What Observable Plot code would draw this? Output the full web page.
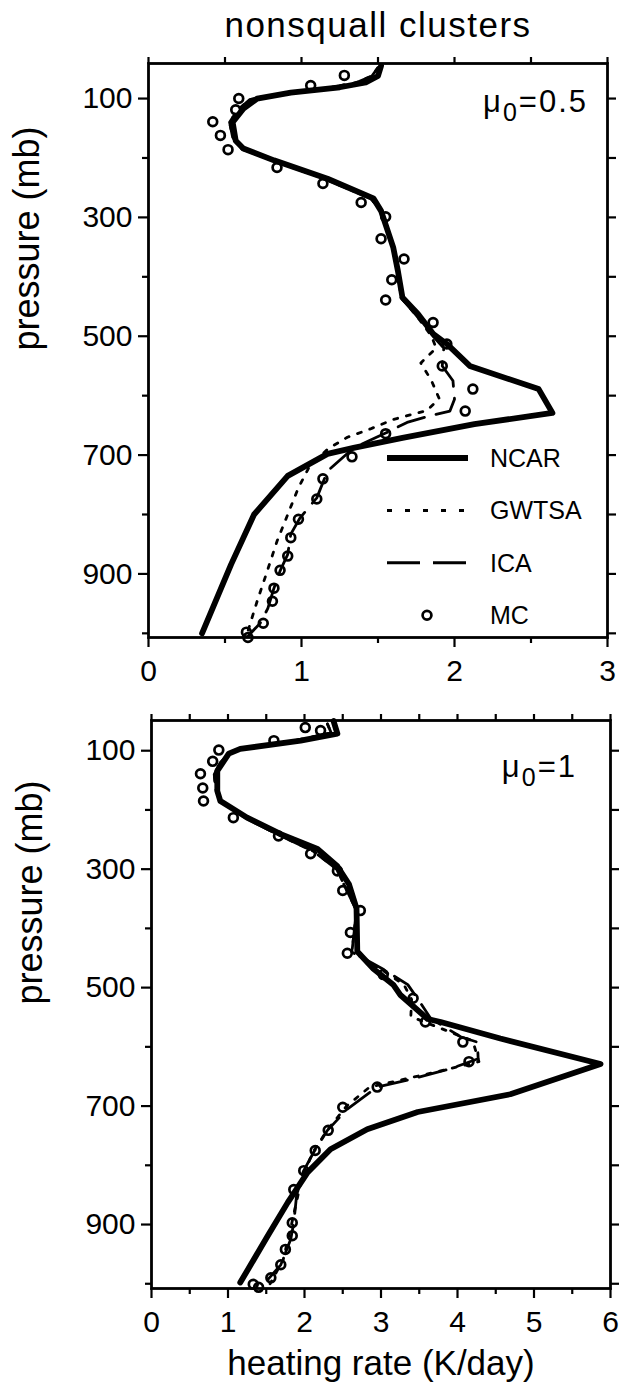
<!DOCTYPE html>
<html><head><meta charset="utf-8">
<script src="https://cdn.jsdelivr.net/npm/d3@7"></script>
<script src="https://cdn.jsdelivr.net/npm/@observablehq/plot@0.6"></script>
<style>
body{margin:0;background:#fff;}
#wrap{position:relative;width:621px;height:1384px;background:#fff;}
#wrap svg{position:absolute;left:0;}
</style></head><body><div id="wrap"></div>
<script>
// ---------- text ----------
const titleText = "nonsquall clusters";
const yLabel = "pressure (mb)";
const xLabel = "heating rate (K/day)";
const seriesNames = ["NCAR", "GWTSA", "ICA", "MC"];
const muValues = ["0.5", "1"];

// ---------- ticks ----------
const pressureMajorTicks = [100, 300, 500, 700, 900];
const pressureMinorTicks = [200, 400, 600, 800, 1000];
const xMajorTop = [0, 1, 2, 3];
const xMinorTop = [0.5, 1.5, 2.5];
const xMajorBottom = [0, 1, 2, 3, 4, 5, 6];
const xMinorBottom = [0.5, 1.5, 2.5, 3.5, 4.5, 5.5];

// ---------- data: mu0 = 0.5 (top) ----------
const ncarTopP = [45, 62, 73, 81, 90, 100, 117, 140, 171, 184, 204, 235, 268, 289, 351, 390, 435, 462, 496, 513, 550, 589, 629, 648, 671, 688, 698, 735, 800, 884, 1000];
const ncarTopV = [1.52, 1.50, 1.42, 1.25, 0.93, 0.71, 0.62, 0.55, 0.57, 0.62, 0.82, 1.17, 1.47, 1.52, 1.60, 1.63, 1.66, 1.76, 1.86, 1.95, 2.10, 2.55, 2.64, 2.13, 1.66, 1.34, 1.17, 0.91, 0.69, 0.54, 0.35];

const icaTopP = [48, 62, 73, 82, 92, 102, 120, 140, 165, 185, 205, 235, 268, 290, 350, 390, 435, 465, 500, 520, 550, 575, 606, 626, 634, 645, 663, 688, 727, 772, 806, 833, 867, 895, 924, 958, 983, 1002];
const icaTopV = [1.50, 1.46, 1.36, 1.18, 0.86, 0.66, 0.58, 0.53, 0.55, 0.61, 0.82, 1.15, 1.45, 1.53, 1.60, 1.63, 1.65, 1.75, 1.86, 1.93, 1.92, 1.99, 2.00, 1.97, 1.84, 1.69, 1.55, 1.34, 1.17, 1.10, 0.99, 0.93, 0.91, 0.86, 0.82, 0.78, 0.73, 0.66];

const gwtsaTopP = [48, 62, 73, 82, 92, 102, 120, 140, 165, 185, 205, 235, 268, 290, 350, 390, 435, 465, 500, 520, 545, 575, 605, 625, 640, 656, 670, 690, 720, 755, 800, 845, 900, 946, 996];
const gwtsaTopV = [1.50, 1.46, 1.36, 1.18, 0.86, 0.66, 0.58, 0.53, 0.55, 0.61, 0.82, 1.15, 1.45, 1.53, 1.60, 1.63, 1.65, 1.75, 1.85, 1.88, 1.78, 1.85, 1.90, 1.82, 1.60, 1.45, 1.30, 1.17, 1.05, 0.98, 0.91, 0.84, 0.77, 0.71, 0.65];

const mcTopP = [61, 78, 100, 119, 139, 162, 186, 216, 243, 275, 299, 336, 370, 405, 439, 477, 513, 550, 589, 626, 664, 703, 740, 774, 808, 839, 870, 894, 924, 946, 983, 998, 1007];
const mcTopV = [1.28, 1.06, 0.59, 0.57, 0.42, 0.47, 0.52, 0.84, 1.14, 1.39, 1.55, 1.52, 1.67, 1.59, 1.55, 1.86, 1.95, 1.92, 2.12, 2.07, 1.55, 1.33, 1.14, 1.10, 0.98, 0.93, 0.91, 0.86, 0.82, 0.81, 0.75, 0.64, 0.65];

// ---------- data: mu0 = 1 (bottom) ----------
const ncarBotP = [50, 71, 83, 97, 105, 134, 168, 185, 213, 241, 266, 295, 325, 366, 439, 468, 495, 512, 553, 558, 586, 629, 680, 710, 739, 773, 812, 863, 919, 998];
const ncarBotV = [2.38, 2.43, 1.95, 1.16, 1.01, 0.86, 0.86, 0.90, 1.25, 1.69, 2.17, 2.43, 2.58, 2.68, 2.69, 2.90, 3.16, 3.25, 3.61, 3.78, 4.56, 5.87, 4.69, 3.48, 2.82, 2.34, 2.04, 1.78, 1.52, 1.16];

const icaBotP = [55, 70, 85, 100, 120, 140, 165, 185, 213, 242, 270, 300, 335, 370, 405, 440, 469, 495, 519, 552, 583, 592, 620, 637, 656, 668, 705, 741, 778, 809, 834, 897, 925, 968, 993];
const icaBotV = [2.30, 2.35, 1.80, 1.05, 0.90, 0.82, 0.84, 0.90, 1.22, 1.66, 2.12, 2.42, 2.55, 2.68, 2.65, 2.62, 3.03, 3.35, 3.48, 3.65, 4.04, 4.26, 4.27, 3.91, 3.35, 2.95, 2.56, 2.30, 2.12, 1.99, 1.91, 1.86, 1.82, 1.69, 1.52];

const gwtsaBotP = [55, 70, 85, 100, 120, 140, 165, 185, 213, 242, 270, 300, 335, 370, 405, 440, 469, 495, 520, 549, 590, 625, 640, 668, 700, 740, 780, 830, 900, 960, 1000];
const gwtsaBotV = [2.30, 2.35, 1.80, 1.05, 0.90, 0.82, 0.84, 0.90, 1.22, 1.66, 2.12, 2.42, 2.55, 2.68, 2.65, 2.62, 3.00, 3.30, 3.40, 3.39, 4.20, 4.28, 3.80, 2.85, 2.55, 2.30, 2.10, 1.95, 1.83, 1.72, 1.55];

const mcBotP = [61, 66, 83, 99, 118, 139, 163, 185, 213, 244, 274, 303, 336, 370, 407, 442, 478, 518, 558, 592, 625, 668, 702, 741, 775, 809, 841, 897, 919, 942, 968, 990, 1001, 1006];
const mcBotV = [2.01, 2.21, 1.60, 0.88, 0.80, 0.64, 0.67, 0.68, 1.07, 1.66, 2.08, 2.43, 2.50, 2.73, 2.60, 2.56, 3.03, 3.42, 3.58, 4.07, 4.15, 2.95, 2.50, 2.31, 2.14, 1.99, 1.86, 1.84, 1.84, 1.75, 1.69, 1.56, 1.33, 1.40];

const zip = (P, V) => P.map((p, i) => ({p, v: V[i]}));
const FONT = "'Liberation Sans', Arial, Helvetica, sans-serif";
const intFmt = d3.format("d");

function panel(cfg) {
  const {ncar, gwtsa, ica, mc, xDomain, yDomain, xMajor, xMinor, height, mt, mb, ml, mr, top, withTitle, withXLabel, mu, muDx, muDy, withLegend} = cfg;
  const marks = [
    Plot.line(gwtsa, {x: "v", y: "p", stroke: "black", strokeWidth: 2.8, strokeDasharray: "4,9", strokeLinecap: "round"}),
    Plot.line(ica, {x: "v", y: "p", stroke: "black", strokeWidth: 2.8, strokeDasharray: "28,12"}),
    Plot.line(ncar, {x: "v", y: "p", stroke: "black", strokeWidth: 5.8, strokeLinejoin: "round", strokeLinecap: "round"}),
    Plot.dot(mc, {x: "v", y: "p", r: 4.4, stroke: "black", strokeWidth: 2.7, fill: "none"}),
    Plot.frame({stroke: "black", strokeWidth: 2.8}),
    Plot.axisY({anchor: "left", ticks: pressureMajorTicks, tickSize: 10, tickPadding: 6, fontSize: 30, label: null, strokeWidth: 2.2, tickFormat: intFmt}),
    Plot.axisY({anchor: "left", ticks: pressureMinorTicks, tickSize: 6, tickFormat: () => "", label: null, strokeWidth: 2.2}),
    Plot.axisY({anchor: "right", ticks: pressureMajorTicks.concat(pressureMinorTicks), tickSize: 8, tickFormat: () => "", label: null, strokeWidth: 2.2}),
    Plot.axisX({anchor: "bottom", ticks: xMajor, tickSize: 10, tickPadding: 12, fontSize: 30, label: null, strokeWidth: 2.2, tickFormat: intFmt}),
    Plot.axisX({anchor: "bottom", ticks: xMinor, tickSize: 6, tickFormat: () => "", label: null, strokeWidth: 2.2}),
    Plot.axisX({anchor: "top", ticks: xMajor.concat(xMinor), tickSize: 7, tickFormat: () => "", label: null, strokeWidth: 2.2}),
    Plot.text([yLabel], {frameAnchor: "left", dx: -121, rotate: -90, fontSize: 36})
  ];
  if (withTitle) marks.push(Plot.text([titleText], {frameAnchor: "top", dy: -51, fontSize: 35}));
  if (withXLabel) marks.push(Plot.text([xLabel], {frameAnchor: "bottom", dy: 86, fontSize: 35}));
  const svg = Plot.plot({
    width: 621, height, marginTop: mt, marginBottom: mb, marginLeft: ml, marginRight: mr,
    x: {domain: xDomain},
    y: {domain: yDomain, reverse: true},
    style: {fontFamily: FONT, background: "white", overflow: "visible", color: "black"},
    marks
  });
  svg.style.top = top + "px";
  const s = d3.select(svg);
  s.selectAll("text").filter(function() { return this.textContent === titleText; }).attr("letter-spacing", 1.5);
  const fr = 621 - mr, ft = mt, fb = height - mb;
  // mu label
  const t = s.append("text").attr("x", fr + muDx).attr("y", ft + muDy).attr("text-anchor", "end")
    .attr("font-family", FONT).attr("font-size", 31).attr("letter-spacing", 2).attr("fill", "black");
  t.append("tspan").text("μ");
  t.append("tspan").attr("dy", 9).attr("font-size", 25).text("0");
  t.append("tspan").attr("dy", -9).text("=" + mu);
  if (withLegend) {
    const g = s.append("g").attr("font-family", FONT).attr("font-size", 25).attr("fill", "black").attr("text-anchor", "start");
    const styles = [{w: 6, dash: null}, {w: 3, dash: "5,13"}, {w: 3, dash: "33,13"}, null];
    seriesNames.forEach((name, i) => {
      const y = fb - 179 + i * 52.4;
      if (styles[i]) {
        const l = g.append("line").attr("x1", fr - 220).attr("x2", fr - 139).attr("y1", y).attr("y2", y)
          .attr("stroke", "black").attr("stroke-width", styles[i].w);
        if (styles[i].dash) l.attr("stroke-dasharray", styles[i].dash);
      } else {
        g.append("circle").attr("cx", fr - 180).attr("cy", y).attr("r", 4.4).attr("fill", "none")
          .attr("stroke", "black").attr("stroke-width", 2.7);
      }
      g.append("text").attr("x", fr - 117).attr("y", y).attr("dy", "0.35em").attr("text-anchor", "start").text(name);
    });
  }
  return svg;
}

const wrap = document.getElementById("wrap");
wrap.appendChild(panel({
  ncar: zip(ncarTopP, ncarTopV), gwtsa: zip(gwtsaTopP, gwtsaTopV), ica: zip(icaTopP, icaTopV), mc: zip(mcTopP, mcTopV),
  xDomain: [0, 3], yDomain: [41, 1007], xMajor: xMajorTop, xMinor: xMinorTop,
  height: 700, mt: 63, mb: 63, ml: 148, mr: 14, top: 0,
  withTitle: true, withXLabel: false, mu: muValues[0], muDx: -19, muDy: 49, withLegend: true
}));
wrap.appendChild(panel({
  ncar: zip(ncarBotP, ncarBotV), gwtsa: zip(gwtsaBotP, gwtsaBotV), ica: zip(icaBotP, icaBotV), mc: zip(mcBotP, mcBotV),
  xDomain: [0, 6], yDomain: [49, 1008], xMajor: xMajorBottom, xMinor: xMinorBottom,
  height: 684, mt: 20, mb: 96, ml: 151, mr: 11, top: 700,
  withTitle: false, withXLabel: true, mu: muValues[1], muDx: -33, muDy: 57, withLegend: false
}));
</script></body></html>
